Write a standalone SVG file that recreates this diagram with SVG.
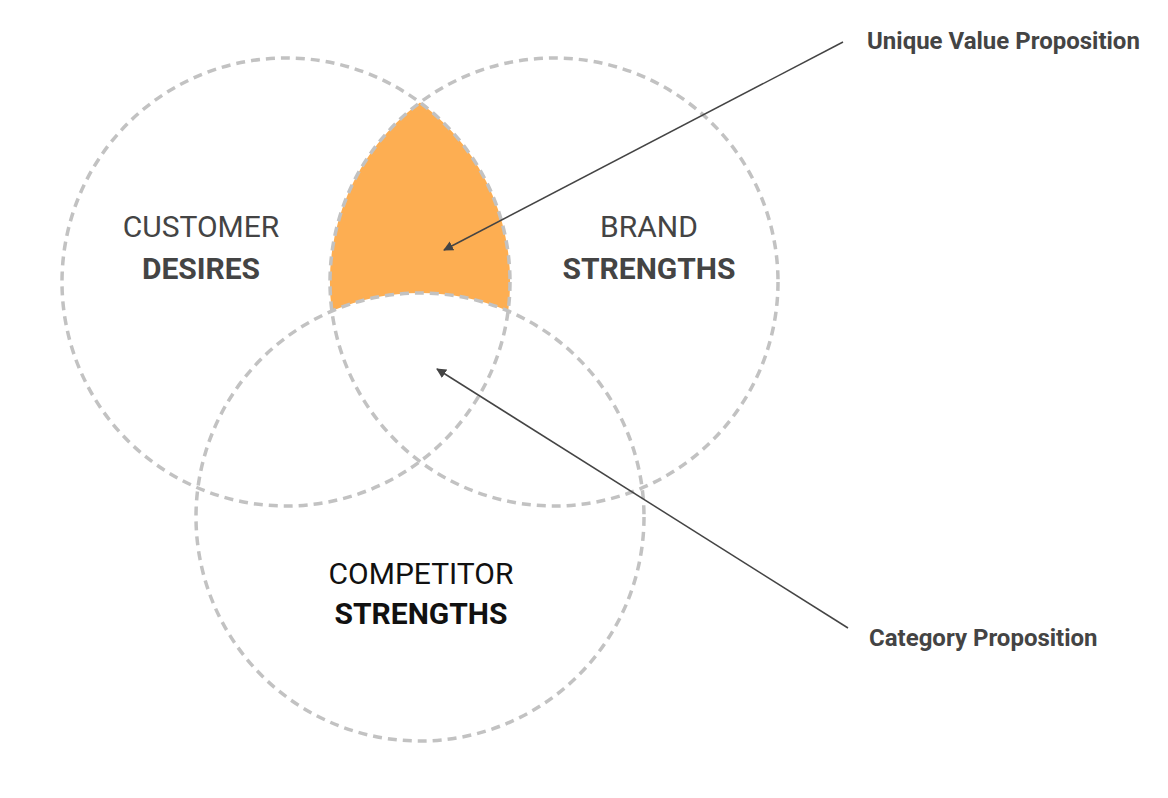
<svg xmlns="http://www.w3.org/2000/svg" width="1168" height="798" viewBox="0 0 1168 798">
<style>
.ring{fill:none;stroke:#c2c2c2;stroke-width:3.5;stroke-dasharray:9 6}
.t{font-family:Roboto,"Liberation Sans",sans-serif;font-size:30px;text-anchor:middle;fill:#444}
.b{font-weight:bold}
.lbl{font-family:Roboto,"Liberation Sans",sans-serif;font-size:24px;font-weight:bold;fill:#444}
.conn{stroke:#444;stroke-width:1.5;fill:none;marker-end:url(#ah)}
</style>
<defs>
<marker id="ah" viewBox="0 0 10 10" refX="9" refY="5" markerWidth="10" markerHeight="10" markerUnits="userSpaceOnUse" orient="auto">
<path d="M0,0 L10,5 L0,10 z" fill="#444"/>
</marker>
</defs>
<rect width="1168" height="798" fill="#fff"/>
<g id="uvp-region">
<path d="M331.8,311 A224,224 0 0 1 420,102.5 A224,224 0 0 1 508.2,311 A224,224 0 0 0 331.8,311 Z" fill="#fdae52"/>
</g>
<g id="customer">
<circle class="ring" cx="286" cy="282" r="224"/>
<text class="t" x="201" y="237">CUSTOMER</text>
<text class="t b" x="201" y="279">DESIRES</text>
</g>
<g id="brand">
<circle class="ring" cx="554" cy="282" r="224"/>
<text class="t" x="649" y="237">BRAND</text>
<text class="t b" x="649" y="279">STRENGTHS</text>
</g>
<g id="competitor">
<circle class="ring" cx="420" cy="517" r="224"/>
<text class="t" x="421" y="584" style="fill:#111">COMPETITOR</text>
<text class="t b" x="421" y="624" style="fill:#111">STRENGTHS</text>
</g>
<g id="connectors">
<line class="conn" x1="843" y1="42" x2="444" y2="250"/>
<line class="conn" x1="848" y1="628" x2="437" y2="369"/>
</g>
<g id="labels">
<text class="lbl" x="867" y="49">Unique Value Proposition</text>
<text class="lbl" x="869" y="646">Category Proposition</text>
</g>
</svg>
